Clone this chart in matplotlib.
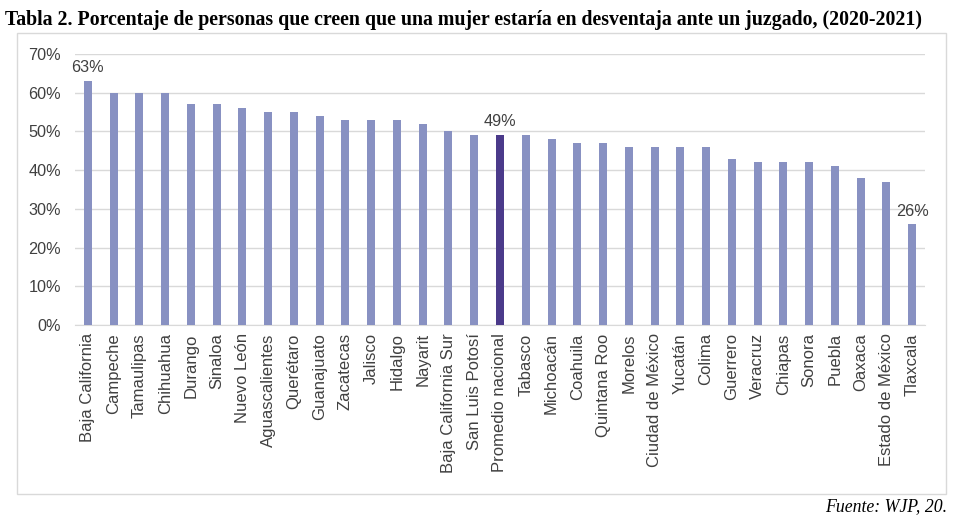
import matplotlib
matplotlib.use("Agg")
import matplotlib.pyplot as plt
from matplotlib.patches import Rectangle
from matplotlib.ticker import FuncFormatter

states = ["Baja California", "Campeche", "Tamaulipas", "Chihuahua", "Durango", "Sinaloa",
          "Nuevo León", "Aguascalientes", "Querétaro", "Guanajuato", "Zacatecas", "Jalisco",
          "Hidalgo", "Nayarit", "Baja California Sur", "San Luis Potosí", "Promedio nacional",
          "Tabasco", "Michoacán", "Coahuila", "Quintana Roo", "Morelos", "Ciudad de México",
          "Yucatán", "Colima", "Guerrero", "Veracruz", "Chiapas", "Sonora", "Puebla",
          "Oaxaca", "Estado de México", "Tlaxcala"]
values = [63, 60, 60, 60, 57, 57, 56, 55, 55, 54, 53, 53, 53, 52, 50, 49, 49.2,
          49, 48, 47, 47, 46, 46, 46, 46, 43, 42, 42, 42, 41, 38, 37, 26]
labeled = {"Baja California": "63%", "Promedio nacional": "49%", "Tlaxcala": "26%"}
yticks = [0, 10, 20, 30, 40, 50, 60, 70]

light = "#8891C2"
dark = "#4B3A8A"
txt = "#404040"

fig = plt.figure(figsize=(9.7, 5.3), dpi=100)
W, H = 970, 530
ax = fig.add_axes([75 / W, 1 - 325 / H, 850 / W, (325 - 54) / H])

colors = [dark if s == "Promedio nacional" else light for s in states]
x = list(range(len(states)))
ax.bar(x, values, width=0.31, color=colors, zorder=3)
ax.set_xlim(-0.5, len(states) - 0.5)
ax.set_ylim(0, 70)
ax.set_yticks(yticks)
ax.yaxis.set_major_formatter(FuncFormatter(lambda v, p: f"{int(v)}%"))
ax.grid(axis="y", color="#D9D9D9", linewidth=1, zorder=0)
for s in ax.spines.values():
    s.set_visible(False)
ax.spines["bottom"].set_visible(True)
ax.spines["bottom"].set_color("#D9D9D9")
ax.tick_params(axis="x", length=0, labelsize=12, labelcolor=txt, pad=6)
ax.tick_params(axis="y", length=0, labelsize=11.7, labelcolor=txt, pad=10)
ax.set_xticks(x)
ax.set_xticklabels(states, rotation=90, family="Liberation Sans")
for lbl in ax.get_yticklabels():
    lbl.set_family("Liberation Sans")

for i, (s, v) in enumerate(zip(states, values)):
    if s in labeled:
        ax.text(i, v + 1.5, labeled[s], ha="center", va="bottom", fontsize=11.7,
                color=txt, family="Liberation Sans")

fig.patches.append(Rectangle((17 / W, 1 - 494 / H), (946 - 17) / W, (494 - 33) / H,
                             transform=fig.transFigure, fill=False,
                             edgecolor="#D9D9D9", linewidth=1))

fig.text(5 / W, 1 - 20 / H,
         "Tabla 2. Porcentaje de personas que creen que una mujer estaría en desventaja ante un juzgado, (2020-2021)",
         ha="left", va="center", fontsize=14.3, fontweight="bold", family="Liberation Serif")
fig.text(947 / W, 1 - 507 / H, "Fuente: WJP, 20.", ha="right", va="center",
         fontsize=12.8, style="italic", family="Liberation Serif")

fig.savefig("out.png", dpi=100, facecolor="white")
